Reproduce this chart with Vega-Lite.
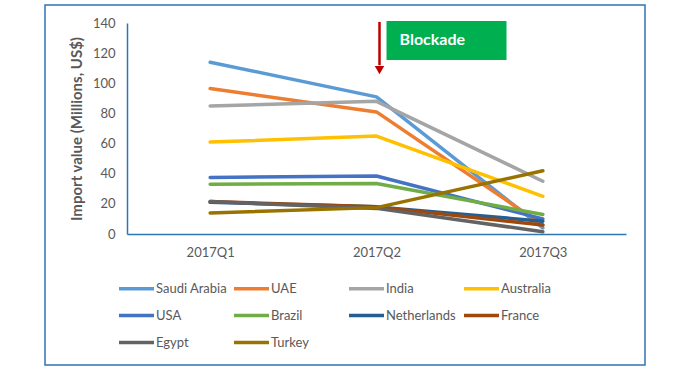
{
  "$schema": "https://vega.github.io/schema/vega-lite/v6.json",
  "width": 600,
  "height": 360,
  "autosize": {"type": "none"},
  "padding": {"left": 45, "top": 5, "right": 38, "bottom": 12},
  "background": "white",
  "config": {
    "view": {"stroke": "#2E75B6", "strokeWidth": 1.5},
    "font": "Lato",
    "axis": {"labelColor": "#595959", "titleColor": "#595959", "labelFont": "Lato", "titleFont": "Lato"}
  },
  "datasets": {
    "imports": [
      {"country": "Saudi Arabia", "quarter": "2017Q1", "value": 114},
      {"country": "Saudi Arabia", "quarter": "2017Q2", "value": 91},
      {"country": "Saudi Arabia", "quarter": "2017Q3", "value": 4},
      {"country": "UAE", "quarter": "2017Q1", "value": 96.5},
      {"country": "UAE", "quarter": "2017Q2", "value": 81},
      {"country": "UAE", "quarter": "2017Q3", "value": 6},
      {"country": "India", "quarter": "2017Q1", "value": 85},
      {"country": "India", "quarter": "2017Q2", "value": 88},
      {"country": "India", "quarter": "2017Q3", "value": 35},
      {"country": "Australia", "quarter": "2017Q1", "value": 61},
      {"country": "Australia", "quarter": "2017Q2", "value": 65},
      {"country": "Australia", "quarter": "2017Q3", "value": 25},
      {"country": "USA", "quarter": "2017Q1", "value": 37.5},
      {"country": "USA", "quarter": "2017Q2", "value": 38.5},
      {"country": "USA", "quarter": "2017Q3", "value": 10},
      {"country": "Brazil", "quarter": "2017Q1", "value": 33},
      {"country": "Brazil", "quarter": "2017Q2", "value": 33.5},
      {"country": "Brazil", "quarter": "2017Q3", "value": 13},
      {"country": "Netherlands", "quarter": "2017Q1", "value": 21},
      {"country": "Netherlands", "quarter": "2017Q2", "value": 18},
      {"country": "Netherlands", "quarter": "2017Q3", "value": 8.5},
      {"country": "France", "quarter": "2017Q1", "value": 21.5},
      {"country": "France", "quarter": "2017Q2", "value": 18},
      {"country": "France", "quarter": "2017Q3", "value": 6},
      {"country": "Egypt", "quarter": "2017Q1", "value": 21.5},
      {"country": "Egypt", "quarter": "2017Q2", "value": 17},
      {"country": "Egypt", "quarter": "2017Q3", "value": 1.5},
      {"country": "Turkey", "quarter": "2017Q1", "value": 14},
      {"country": "Turkey", "quarter": "2017Q2", "value": 17.5},
      {"country": "Turkey", "quarter": "2017Q3", "value": 42}
    ],
    "event": [
      {"quarter": "2017Q2", "label": "Blockade", "arrowTop": 140.7, "arrowEnd": 112, "arrowHead": 108.8, "boxTop": 141.3, "boxBottom": 115.5, "textY": 128.5}
    ]
  },
  "layer": [
    {
      "data": {"name": "imports"},
      "mark": {"type": "line", "strokeWidth": 3.5, "strokeCap": "round", "strokeJoin": "round"},
      "encoding": {
        "x": {
          "field": "quarter", "type": "ordinal",
          "scale": {"type": "point", "domain": ["2017Q1", "2017Q2", "2017Q3"], "range": [82, 581], "padding": 0.5},
          "axis": {"title": null, "labelAngle": 0, "ticks": false, "domainColor": "#2E75B6", "domainWidth": 1.5, "offset": -131, "labelPadding": 12, "labelFontSize": 13}
        },
        "y": {
          "field": "value", "type": "quantitative",
          "scale": {"domain": [0, 140], "range": [229, 18], "nice": false, "zero": true},
          "axis": {"title": "Import value (Millions, US$)", "titleFontSize": 15, "titleFontWeight": "bold", "values": [0, 20, 40, 60, 80, 100, 120, 140], "grid": false, "ticks": false, "domainColor": "#2E75B6", "domainWidth": 1.5, "offset": -82, "labelPadding": 12, "labelFontSize": 13, "titlePadding": 8}
        },
        "color": {
          "field": "country", "type": "nominal",
          "scale": {
            "domain": ["Saudi Arabia", "UAE", "India", "Australia", "USA", "Brazil", "Netherlands", "France", "Egypt", "Turkey"],
            "range": ["#5B9BD5", "#ED7D31", "#A5A5A5", "#FFC000", "#4472C4", "#70AD47", "#255E91", "#9E480E", "#636363", "#997300"]
          },
          "legend": {
            "title": null, "orient": "none", "legendX": 72, "legendY": 264, "direction": "horizontal", "columns": 4, "gridAlign": "all",
            "symbolType": "stroke", "symbolSize": 1225, "symbolStrokeWidth": 3.5, "labelFontSize": 13, "labelColor": "#595959", "labelFont": "Lato",
            "labelOffset": 0, "columnPadding": -1, "rowPadding": 0, "labelLimit": 200
          }
        }
      }
    },
    {
      "data": {"name": "event"},
      "mark": {"type": "rule", "color": "#C00000", "strokeWidth": 2.5, "xOffset": 3},
      "encoding": {
        "x": {"field": "quarter", "type": "ordinal"},
        "y": {"field": "arrowTop", "type": "quantitative"},
        "y2": {"field": "arrowEnd"}
      }
    },
    {
      "data": {"name": "event"},
      "mark": {"type": "point", "shape": "triangle-down", "filled": true, "color": "#C00000", "size": 90, "xOffset": 3, "opacity": 1},
      "encoding": {
        "x": {"field": "quarter", "type": "ordinal"},
        "y": {"field": "arrowHead", "type": "quantitative"}
      }
    },
    {
      "data": {"name": "event"},
      "mark": {"type": "bar", "color": "#00B050", "width": 120, "xOffset": 70},
      "encoding": {
        "x": {"field": "quarter", "type": "ordinal"},
        "y": {"field": "boxTop", "type": "quantitative"},
        "y2": {"field": "boxBottom"}
      }
    },
    {
      "data": {"name": "event"},
      "mark": {"type": "text", "color": "white", "fontWeight": "bold", "fontSize": 16, "align": "left", "baseline": "middle", "dx": 23, "font": "Lato"},
      "encoding": {
        "x": {"field": "quarter", "type": "ordinal"},
        "y": {"field": "textY", "type": "quantitative"},
        "text": {"field": "label"}
      }
    }
  ]
}
